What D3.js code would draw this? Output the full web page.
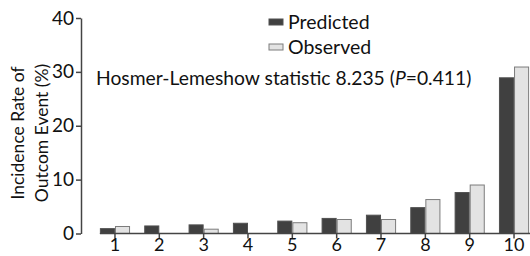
<!DOCTYPE html>
<html>
<head>
<meta charset="utf-8">
<script src="https://cdn.jsdelivr.net/npm/d3@7"></script>
<style>
  body { margin: 0; background: #fff; }
  svg { display: block; font-family: Lato, "Open Sans", sans-serif; }
</style>
</head>
<body>
<div id="chart"></div>
<script>
var groups = ["1", "2", "3", "4", "5", "6", "7", "8", "9", "10"];
var seriesNames = ["Predicted", "Observed"];
var predicted = [0.9, 1.4, 1.6, 1.9, 2.3, 2.8, 3.4, 4.8, 7.6, 28.9];
var observed = [1.3, 0, 0.8, 0, 2.0, 2.6, 2.6, 6.3, 9.0, 30.9];
var yTicks = [0, 10, 20, 30, 40];

var width = 530, height = 256;
var fills = { Predicted: "#404040", Observed: "#e3e3e3" };
var strokes = { Predicted: "#505050", Observed: "#7c7c7c" };
var axisColor = "#444";

var svg = d3
  .select("#chart")
  .append("svg")
  .attr("width", width)
  .attr("height", height);

var y = d3.scaleLinear().domain([0, 40]).range([233.5, 18]);

var x = d3
  .scaleBand()
  .domain(groups)
  .range([92.8, 536.2])
  .paddingInner(0.32)
  .paddingOuter(0.16);

var xs = d3.scaleBand().domain(seriesNames).range([0, x.bandwidth()]);

var rows = groups.map(function (g, i) {
  return { group: g, Predicted: predicted[i], Observed: observed[i] };
});

// bars
var grp = svg
  .selectAll(".grp")
  .data(rows)
  .enter()
  .append("g")
  .attr("transform", function (d) {
    return "translate(" + x(d.group) + ",0)";
  });

grp
  .selectAll("rect")
  .data(function (d) {
    return seriesNames
      .filter(function (s) {
        return d[s] > 0;
      })
      .map(function (s) {
        return { key: s, value: d[s] };
      });
  })
  .enter()
  .append("rect")
  .attr("x", function (d) {
    return xs(d.key) + 0.5;
  })
  .attr("y", function (d) {
    return y(d.value);
  })
  .attr("width", xs.bandwidth() - 1)
  .attr("height", function (d) {
    return y(0) - y(d.value);
  })
  .attr("fill", function (d) {
    return fills[d.key];
  })
  .attr("stroke", function (d) {
    return strokes[d.key];
  })
  .attr("stroke-width", 1);

// y axis
var yAxis = svg
  .append("g")
  .attr("transform", "translate(81,0)")
  .call(d3.axisLeft(y).tickValues(yTicks).tickSize(5).tickSizeOuter(0).tickPadding(2));
yAxis.selectAll("path, line").attr("stroke", axisColor).attr("stroke-width", 1.5);
yAxis.selectAll("text").attr("font-size", 19).attr("fill", "#111").attr("font-family", "Lato, sans-serif");

// x axis
var xAxis = svg
  .append("g")
  .attr("transform", "translate(0," + y(0) + ")")
  .call(d3.axisBottom(x).tickSize(5).tickSizeOuter(0).tickPadding(0));
xAxis.select(".domain").remove();
xAxis
  .append("line")
  .attr("x1", x(groups[0]))
  .attr("x2", width)
  .attr("stroke", axisColor)
  .attr("stroke-width", 1.5);
xAxis.selectAll(".tick line").attr("stroke", axisColor).attr("stroke-width", 1.5);
xAxis.selectAll("text").attr("font-size", 18).attr("fill", "#111").attr("font-family", "Lato, sans-serif");

// y axis title
var title = svg
  .append("text")
  .attr("transform", "translate(0,133) rotate(-90)")
  .attr("text-anchor", "middle")
  .attr("font-size", 17.5)
  .attr("fill", "#111");
title.append("tspan").attr("x", 0).attr("y", 24).text("Incidence Rate of");
title.append("tspan").attr("x", 0).attr("y", 48).text("Outcom Event (%)");

// legend
var legend = svg
  .selectAll(".legend")
  .data(seriesNames)
  .enter()
  .append("g")
  .attr("transform", function (d, i) {
    return "translate(269," + (19 + i * 25) + ")";
  });
legend
  .append("rect")
  .attr("width", 14)
  .attr("height", 6)
  .attr("fill", function (d) {
    return fills[d];
  })
  .attr("stroke", function (d) {
    return strokes[d];
  });
legend
  .append("text")
  .attr("x", 19)
  .attr("y", 10)
  .attr("font-size", 19.5)
  .attr("fill", "#111")
  .text(function (d) {
    return d;
  });

// annotation
var note = svg
  .append("text")
  .attr("x", 96)
  .attr("y", 85)
  .attr("font-size", 19.3)
  .attr("fill", "#111");
note.append("tspan").text("Hosmer-Lemeshow statistic 8.235 (");
note.append("tspan").attr("font-style", "italic").text("P");
note.append("tspan").text("=0.411)");
</script>
</body>
</html>
